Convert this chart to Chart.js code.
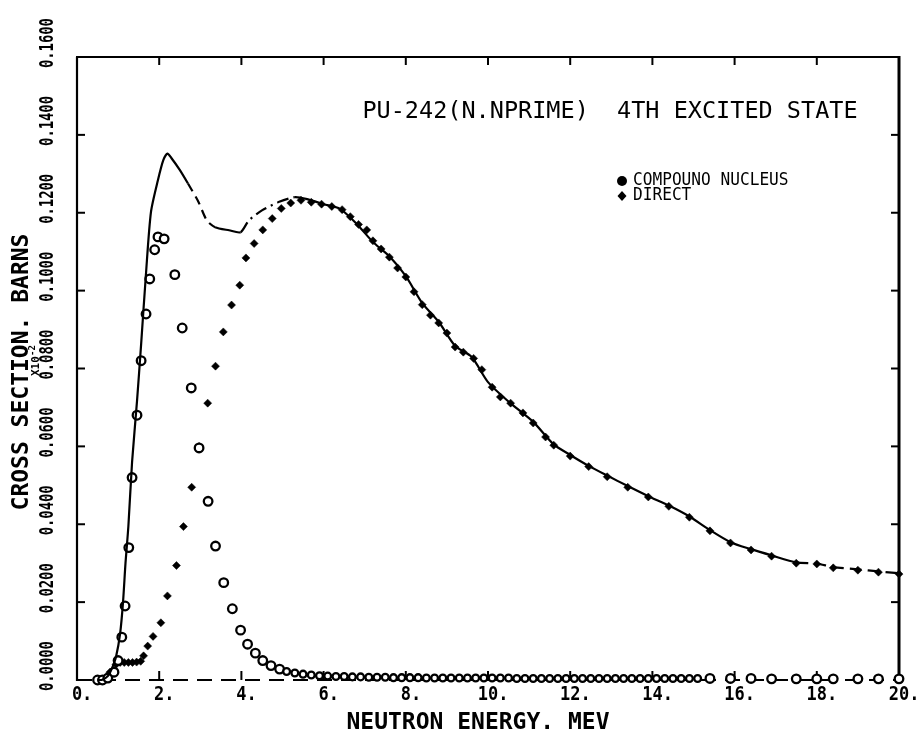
<!DOCTYPE html>
<html>
<head>
<meta charset="utf-8">
<script src="https://cdn.jsdelivr.net/npm/chart.js@4.4.1/dist/chart.umd.min.js"></script>
<style>
  html, body { margin: 0; padding: 0; background: #ffffff; }
  #wrap { width: 922px; height: 738px; }
</style>
</head>
<body>
<div id="wrap"><canvas id="c" width="922" height="738"></canvas></div>
<script>
// ---------- data ----------
const titleText = 'PU-242(N.NPRIME)  4TH EXCITED STATE';
const xTitle = 'NEUTRON ENERGY. MEV';
const yTitle = 'CROSS SECTION. BARNS';
const legendLabels = ['COMPOUNO NUCLEUS', 'DIRECT'];

const xTicks = [0, 2, 4, 6, 8, 10, 12, 14, 16, 18, 20];
const xTickLabels = ['0.', '2.', '4.', '6.', '8.', '10.', '12.', '14.', '16.', '18.', '20.'];
const yTicks = [0, 0.02, 0.04, 0.06, 0.08, 0.10, 0.12, 0.14, 0.16];
const yTickLabels = ['0.0000', '0.0200', '0.0400', '0.0600', '0.0800', '0.1000', '0.1200', '0.1400', '0.1600'];

// total (curve)
const totalE = [0.5,0.6,0.75,0.85,0.95,1.05,1.12,1.18,1.25,1.34,1.46,1.56,1.68,1.8,1.97,2.1,2.2,2.3,2.5,2.7,2.95,3.16,3.36,3.7,3.98,4.18,4.5,4.92,5.3,5.6,6.0,6.4,6.8,7.2,7.6,8.0,8.4,8.8,9.2,9.6,10.0,10.5,11.1,11.6,12.0,12.45,12.9,13.4,13.9,14.4,14.9,15.4,15.9,16.4,16.9,17.5,18.0,18.4,19.0,19.5,20.0];
const totalV = [0,0,0.001,0.003,0.006,0.012,0.02,0.03,0.0395,0.056,0.0716,0.0862,0.1046,0.1202,0.1284,0.1335,0.1352,0.134,0.131,0.1275,0.1229,0.118,0.1163,0.1155,0.115,0.118,0.1206,0.1228,0.124,0.1235,0.1222,0.121,0.1172,0.1125,0.1088,0.1037,0.0968,0.092,0.0858,0.083,0.0765,0.0715,0.0663,0.0605,0.0578,0.055,0.0525,0.0498,0.0472,0.0448,0.042,0.0385,0.0354,0.0336,0.032,0.0302,0.0299,0.029,0.0284,0.0279,0.0274];

// compound nucleus (circles)
const cnE = [0.5,0.62,0.75,0.9,1.0,1.09,1.17,1.26,1.34,1.46,1.56,1.68,1.77,1.89,1.97,2.12,2.38,2.56,2.78,2.97,3.19,3.37,3.57,3.78,3.98,4.15,4.34,4.52,4.72,4.93,
  5.1,5.3,5.5,5.7,5.9,6.1,6.3,6.5,6.7,6.9,7.1,7.3,7.5,7.7,7.9,8.1,8.3,8.5,8.7,8.9,9.1,9.3,9.5,9.7,9.9,10.1,10.3,10.5,10.7,10.9,11.1,11.3,11.5,11.7,11.9,12.1,12.3,12.5,12.7,12.9,13.1,13.3,13.5,13.7,13.9,14.1,14.3,14.5,14.7,14.9,15.1,
  15.4,15.9,16.4,16.9,17.5,18.0,18.4,19.0,19.5,20.0];
const cnV = [0,0,0.0005,0.002,0.005,0.011,0.019,0.034,0.052,0.068,0.082,0.094,0.103,0.1105,0.1138,0.1133,0.1041,0.0904,0.075,0.0596,0.0459,0.0344,0.025,0.0183,0.0128,0.0092,0.0069,0.005,0.0037,0.0028,
  0.0022,0.0018,0.0015,0.0013,0.0011,0.001,0.0009,0.0009,0.0008,0.0008,0.0007,0.0007,0.0007,0.0006,0.0006,0.0006,0.0006,0.0005,0.0005,0.0005,0.0005,0.0005,0.0005,0.0005,0.0005,0.0005,0.0005,0.0005,0.0004,0.0004,0.0004,0.0004,0.0004,0.0004,0.0004,0.0004,0.0004,0.0004,0.0004,0.0004,0.0004,0.0004,0.0004,0.0004,0.0004,0.0004,0.0004,0.0004,0.0004,0.0004,0.0004,
  0.0004,0.0004,0.0004,0.0003,0.0003,0.0003,0.0003,0.0003,0.0003,0.0003];

// direct (diamonds)
const dirE = [0.6,0.8,0.95,1.05,1.15,1.25,1.35,1.45,1.55,1.62,1.72,1.85,2.04,2.2,2.42,2.59,2.79,2.97,3.18,3.37,3.56,3.76,3.96,4.11,4.31,4.52,4.75,4.97,5.2,5.45,5.7,5.95,6.2,6.45,6.65,6.85,7.05,7.2,7.4,7.6,7.8,8.0,8.2,8.4,8.6,8.8,9.0,9.2,9.4,9.65,9.85,10.1,10.3,10.55,10.85,11.1,11.4,11.6,12.0,12.45,12.9,13.4,13.9,14.4,14.9,15.4,15.9,16.4,16.9,17.5,18.0,18.4,19.0,19.5,20.0];
const dirV = [0,0.002,0.004,0.0045,0.0045,0.0045,0.0045,0.0046,0.0048,0.0062,0.0087,0.0112,0.0147,0.0216,0.0294,0.0394,0.0495,0.060,0.0711,0.0806,0.0894,0.0963,0.1014,0.1084,0.1121,0.1156,0.1185,0.1211,0.1225,0.1232,0.1227,0.1222,0.1216,0.1208,0.119,0.117,0.1156,0.1128,0.1107,0.1086,0.1058,0.1035,0.0997,0.0964,0.0937,0.0917,0.0891,0.0855,0.0842,0.0826,0.0797,0.0752,0.0727,0.0711,0.0686,0.066,0.0624,0.0603,0.0575,0.0548,0.0522,0.0495,0.047,0.0446,0.0418,0.0383,0.0352,0.0334,0.0318,0.03,0.0298,0.0288,0.0282,0.0277,0.0272];

// ---------- helpers ----------
const pts = (xs, ys) => xs.map((v, i) => ({ x: v, y: ys[i] }));
const MONO = '"DejaVu Sans Mono", "Liberation Mono", monospace';

function drawText(ctx, s, x, y, o) {
  ctx.save();
  ctx.translate(x, y);
  if (o.rot) ctx.rotate(o.rot);
  ctx.scale(o.sx || 1, 1);
  ctx.font = o.font;
  ctx.textAlign = o.align || 'left';
  ctx.textBaseline = o.baseline || 'middle';
  ctx.fillStyle = '#000';
  ctx.fillText(s, 0, 0);
  ctx.restore();
}
function seg(ctx, x1, y1, x2, y2) {
  ctx.beginPath(); ctx.moveTo(x1, y1); ctx.lineTo(x2, y2); ctx.stroke();
}

const frame = {
  id: 'frame',
  beforeDatasetsDraw(chart) {
    const { ctx, chartArea: a, scales: { x, y } } = chart;
    ctx.save();
    ctx.strokeStyle = '#000';
    ctx.lineCap = 'butt';
    ctx.lineWidth = 2.2;
    seg(ctx, a.left, a.top, a.left, a.bottom + 1);
    seg(ctx, a.left - 1, a.top, a.right, a.top);
    ctx.lineWidth = 3;
    seg(ctx, a.right, a.top - 1, a.right, a.bottom + 1);
    // bottom axis (dashed in the scan)
    ctx.lineWidth = 2;
    ctx.setLineDash([15, 9]);
    seg(ctx, a.left, a.bottom, a.right, a.bottom);
    ctx.setLineDash([]);
    ctx.lineWidth = 2;
    xTicks.forEach(v => {
      if (v === xTicks[0] || v === xTicks[xTicks.length - 1]) return;
      const px = x.getPixelForValue(v);
      seg(ctx, px, a.bottom, px, a.bottom - 9);
      seg(ctx, px, a.top, px, a.top + 8);
    });
    yTicks.forEach(v => {
      if (v === yTicks[0] || v === yTicks[yTicks.length - 1]) return;
      const py = y.getPixelForValue(v);
      seg(ctx, a.left, py, a.left + 8, py);
      seg(ctx, a.right, py, a.right - 8, py);
    });
    ctx.restore();
  },
  afterDraw(chart) {
    const { ctx, chartArea: a, scales: { x, y } } = chart;
    // x tick labels (digits centred on the tick, dot after)
    const xf = 'bold 20px ' + MONO;
    ctx.save(); ctx.font = xf;
    xTickLabels.forEach((lbl, i) => {
      const px = x.getPixelForValue(xTicks[i]);
      const dw = ctx.measureText(lbl.replace('.', '')).width * 0.85;
      drawText(ctx, lbl, px - dw / 2, a.bottom + 15, { font: xf, sx: 0.85 });
    });
    ctx.restore();
    // y tick labels (rotated, reading upward from the tick)
    const yf = 'bold 20px ' + MONO;
    yTickLabels.forEach((lbl, i) => {
      const py = y.getPixelForValue(yTicks[i]);
      drawText(ctx, lbl, 48, py + 11, { font: yf, sx: 0.69, rot: -Math.PI / 2, align: 'left' });
    });
    // axis titles
    drawText(ctx, xTitle, 478, 723, { font: 'bold 23px ' + MONO, align: 'center' });
    drawText(ctx, yTitle, 22, 372, { font: 'bold 23px ' + MONO, align: 'center', rot: -Math.PI / 2 });
    drawText(ctx, 'X10', 36, 376, { font: 'bold 11px ' + MONO, align: 'left', rot: -Math.PI / 2 });
    drawText(ctx, '-2', 32.5, 356, { font: 'bold 9px ' + MONO, align: 'left', rot: -Math.PI / 2 });
    // title
    drawText(ctx, titleText, 610, 112, { font: '23.5px ' + MONO, align: 'center' });
    // legend
    ctx.save();
    ctx.fillStyle = '#000';
    ctx.beginPath(); ctx.arc(622, 181, 5, 0, Math.PI * 2); ctx.fill();
    ctx.beginPath(); ctx.moveTo(622, 191); ctx.lineTo(626.5, 196); ctx.lineTo(622, 201); ctx.lineTo(617.5, 196); ctx.closePath(); ctx.fill();
    ctx.restore();
    drawText(ctx, legendLabels[0], 633, 181, { font: '17px ' + MONO, sx: 0.95 });
    drawText(ctx, legendLabels[1], 633, 196, { font: '17px ' + MONO, sx: 0.95 });
  }
};

const dashFor = c => {
  const x0 = c.p0.parsed.x;
  if (x0 >= 2.6 && x0 < 3.3) return [9, 6];
  if (x0 >= 3.98 && x0 < 5.0) return [12, 5, 2, 5];
  if (x0 >= 17.4) return [12, 6];
  return [];
};

new Chart(document.getElementById('c'), {
  type: 'scatter',
  data: {
    datasets: [
      {
        label: 'TOTAL',
        data: pts(totalE, totalV),
        showLine: true,
        borderColor: '#000',
        borderWidth: 2.2,
        pointRadius: 0,
        tension: 0.25,
        clip: false,
        segment: { borderDash: dashFor }
      },
      {
        label: legendLabels[0],
        data: pts(cnE, cnV),
        showLine: false,
        pointStyle: 'circle',
        pointRadius: c => (c.raw && c.raw.x > 5.0 && c.raw.x < 15.3) ? 3.4 : 4.3,
        pointBorderWidth: 2.3,
        pointBorderColor: '#000',
        pointBackgroundColor: '#fff',
        clip: false
      },
      {
        label: legendLabels[1],
        data: pts(dirE, dirV),
        showLine: false,
        pointStyle: 'rectRot',
        pointRadius: 4,
        pointBorderWidth: 0.5,
        pointBorderColor: '#000',
        pointBackgroundColor: '#000',
        clip: false
      }
    ]
  },
  options: {
    responsive: false,
    animation: false,
    devicePixelRatio: 1,
    layout: { padding: { left: 77, right: 23, top: 57, bottom: 58 } },
    plugins: { legend: { display: false }, title: { display: false }, tooltip: { enabled: false } },
    scales: {
      x: { type: 'linear', min: 0, max: 20, display: false },
      y: { type: 'linear', min: 0, max: 0.16, display: false }
    }
  },
  plugins: [frame]
});
</script>
</body>
</html>
